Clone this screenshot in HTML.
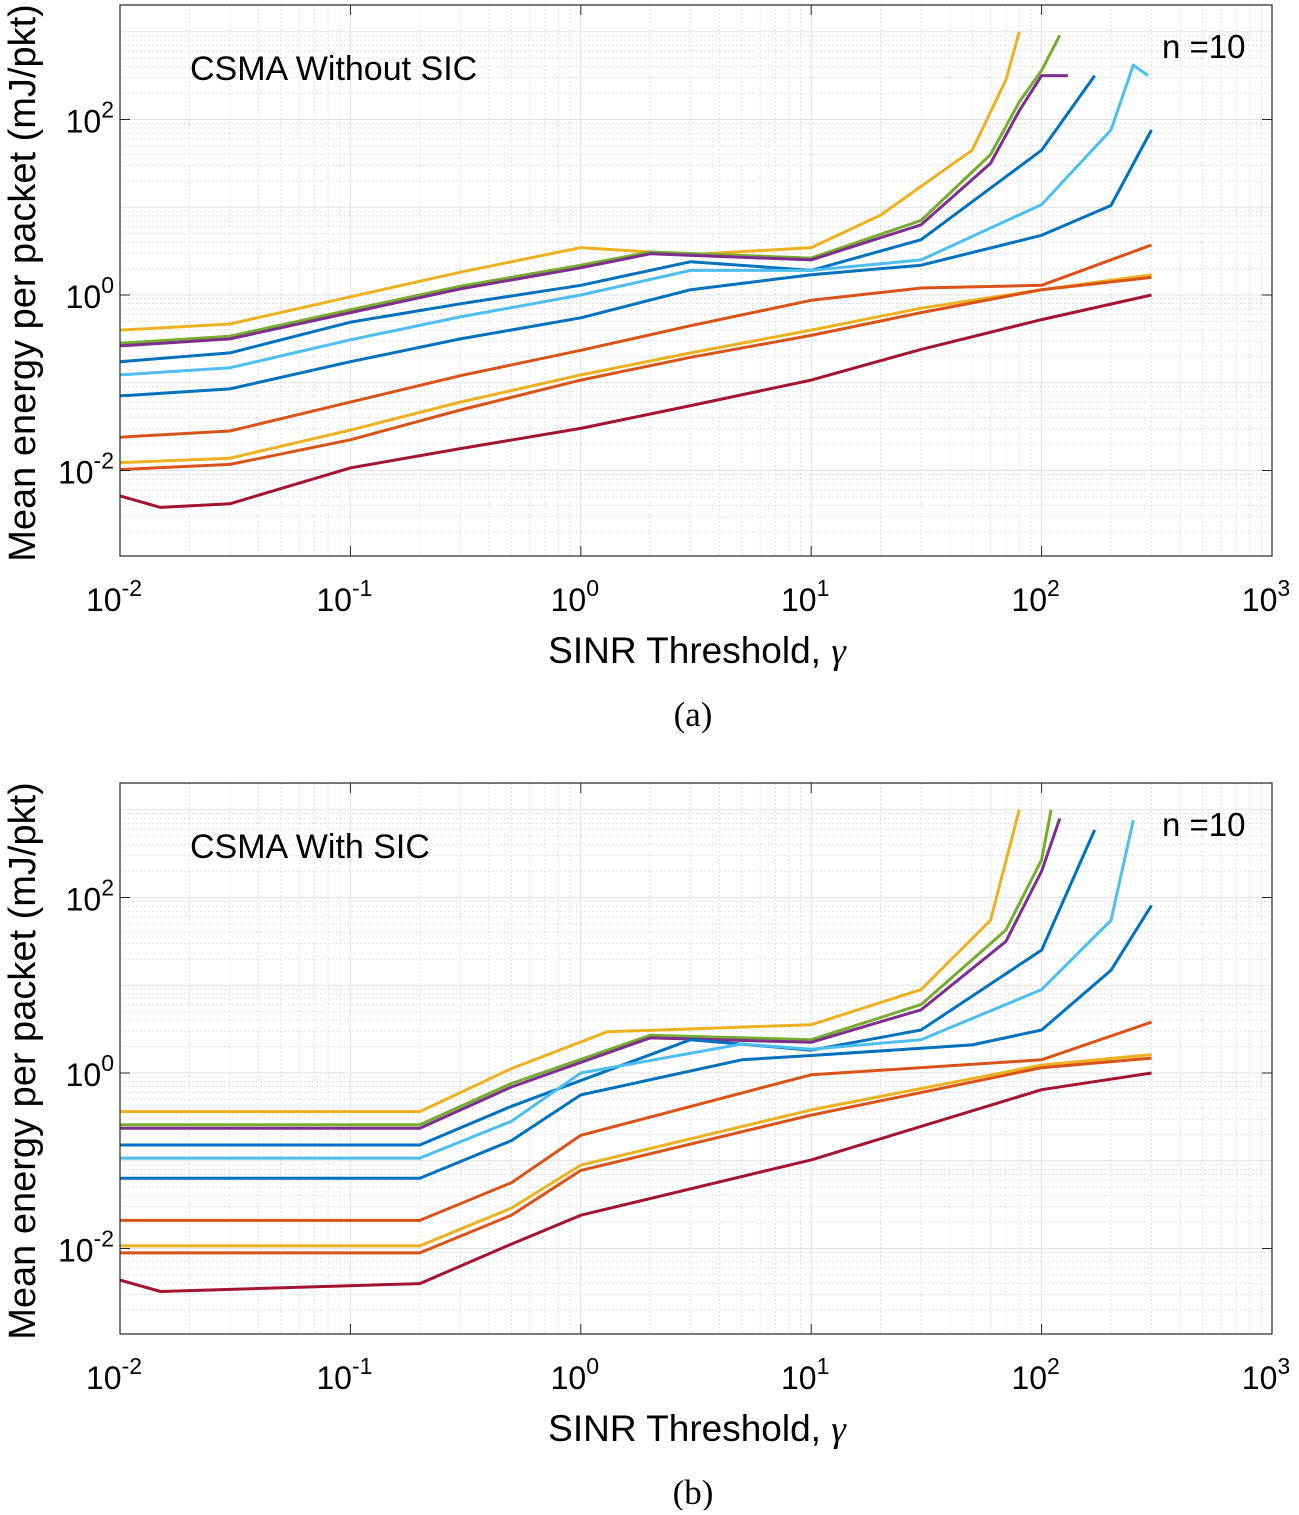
<!DOCTYPE html>
<html><head><meta charset="utf-8">
<style>
body{margin:0;background:#fff;}
svg text{font-family:"Liberation Sans",sans-serif;fill:#000;}
</style></head>
<body>
<svg id="fig" width="1299" height="1510" xmlns="http://www.w3.org/2000/svg"></svg>
<script>
// Shared colors
const colors = ["#EDB120","#77AC30","#7E2F8E","#0072BD","#4DBEEE","#0072BD","#D95319","#EDB120","#D95319","#A2142F"];
const names = ["yellow-top","green","purple","blue","light-blue","blue-low","orange","yellow-low","orange-low","dark-red"];
// Panel (a) data: gamma values and log10 energy (mJ/pkt)
const aX = [
 [0.01,0.03,0.1,0.3,1,3,10,20,50,70,80],
 [0.01,0.03,0.1,0.3,1,2,10,30,60,80,100,120],
 [0.01,0.03,0.1,0.3,1,2,10,30,60,80,100,130],
 [0.01,0.03,0.1,0.3,1,3,10,30,100,170],
 [0.01,0.03,0.1,0.3,1,3,10,30,100,200,250,290],
 [0.01,0.03,0.1,0.3,1,3,10,30,100,200,300],
 [0.01,0.03,0.1,0.3,1,3,10,30,100,300],
 [0.01,0.03,0.1,0.3,1,3,10,30,100,300],
 [0.01,0.03,0.1,0.3,1,3,10,30,100,300],
 [0.01,0.015,0.03,0.1,0.3,1,3,10,30,100,300]
];
const aY = [
 [-0.40,-0.33,-0.02,0.26,0.54,0.46,0.54,0.91,1.65,2.45,3.0],
 [-0.55,-0.47,-0.17,0.10,0.34,0.49,0.42,0.85,1.6,2.2,2.56,2.96],
 [-0.58,-0.50,-0.20,0.07,0.31,0.47,0.40,0.80,1.5,2.1,2.5,2.5],
 [-0.76,-0.66,-0.31,-0.10,0.11,0.38,0.28,0.63,1.65,2.5],
 [-0.91,-0.83,-0.51,-0.25,0.0,0.28,0.28,0.40,1.03,1.88,2.62,2.5],
 [-1.15,-1.07,-0.76,-0.50,-0.26,0.06,0.23,0.34,0.68,1.02,1.88],
 [-1.62,-1.55,-1.22,-0.92,-0.63,-0.35,-0.06,0.08,0.11,0.57],
 [-1.91,-1.86,-1.54,-1.22,-0.91,-0.66,-0.40,-0.15,0.06,0.23],
 [-1.99,-1.93,-1.65,-1.31,-0.97,-0.71,-0.46,-0.20,0.06,0.20],
 [-2.29,-2.42,-2.38,-1.97,-1.75,-1.52,-1.26,-0.97,-0.62,-0.28,0.0]
];
// Panel (b) data
const bX = [
 [0.01,0.2,0.5,1.3,10,30,60,80],
 [0.01,0.2,0.5,2,10,30,70,100,110],
 [0.01,0.2,0.5,2,10,30,70,100,120],
 [0.01,0.2,0.5,3,10,30,100,170],
 [0.01,0.2,0.5,1,5,10,30,100,200,250],
 [0.01,0.2,0.5,1,5,10,50,100,200,300],
 [0.01,0.2,0.5,1,10,100,300],
 [0.01,0.2,0.5,1,10,100,300],
 [0.01,0.2,0.5,1,10,100,300],
 [0.01,0.015,0.2,0.5,1,10,100,300]
];
const bY = [
 [-0.44,-0.44,0.05,0.47,0.55,0.95,1.74,3.0],
 [-0.59,-0.59,-0.12,0.43,0.38,0.78,1.63,2.43,3.0],
 [-0.63,-0.63,-0.16,0.40,0.35,0.72,1.5,2.3,2.9],
 [-0.82,-0.82,-0.38,0.38,0.26,0.49,1.4,2.77],
 [-0.97,-0.97,-0.55,0.0,0.33,0.27,0.38,0.95,1.74,2.88],
 [-1.20,-1.20,-0.77,-0.25,0.15,0.20,0.32,0.49,1.17,1.91],
 [-1.68,-1.68,-1.25,-0.71,-0.02,0.15,0.58],
 [-1.97,-1.97,-1.54,-1.05,-0.42,0.09,0.21],
 [-2.05,-2.05,-1.62,-1.11,-0.48,0.06,0.17],
 [-2.36,-2.49,-2.40,-1.95,-1.62,-0.99,-0.19,0.0]
];
const xTicks = ["-2","-1","0","1","2","3"];
const yTicks = ["-2","0","2"];

const NS="http://www.w3.org/2000/svg";
const svg=document.getElementById('fig');
function mk(tag,attrs,parent){const e=document.createElementNS(NS,tag);for(const k in attrs)e.setAttribute(k,attrs[k]);(parent||svg).appendChild(e);return e;}

function panel(id,top,X,Y,title,caption){
  const L=120,R=1272,T=top,B=top+551;
  const y0=top+290; // pixel of 10^0
  const dx=(R-L)/5, dy=87.75;
  const sx=g=>L+(Math.log10(g)+2)*dx;
  const sy=l=>y0-l*dy;
  const g=mk('g',{});
  
  
  const grid=mk('g',{},g);
  
  
  for(let d=-2;d<3;d++)for(let m=2;m<10;m++){const x=sx(m*Math.pow(10,d));mk('line',{x1:x,x2:x,y1:T,y2:B,stroke:'#d8d8d8','stroke-dasharray':'1.5,2.5','stroke-width':1},grid);}
  for(let d=-3;d<4;d++)for(let m=2;m<10;m++){const y=sy(d+Math.log10(m));if(y>T&&y<B)mk('line',{x1:L,x2:R,y1:y,y2:y,stroke:'#d8d8d8','stroke-dasharray':'1.5,2.5','stroke-width':1},grid);}
  for(let d=-2;d<=3;d++){const x=sx(Math.pow(10,d));mk('line',{x1:x,x2:x,y1:T,y2:B,stroke:'#e2e2e2','stroke-width':1},grid);}
  for(let d=-3;d<=4;d++){const y=sy(d);if(y>T&&y<B)mk('line',{x1:L,x2:R,y1:y,y2:y,stroke:'#e2e2e2','stroke-width':1},grid);}
  X.forEach((xs,i)=>{
    const pts=xs.map((v,j)=>sx(v).toFixed(1)+','+Math.max(T,sy(Y[i][j])).toFixed(1)).join(' ');
    const pl=mk('polyline',{points:pts,fill:'none',stroke:colors[i],'stroke-width':3,'stroke-linejoin':'round'},g);
    
    
  });
  const box=mk('rect',{x:L,y:T,width:R-L,height:B-T,fill:'none',stroke:'#262626','stroke-width':1.2},g);
  
  
  xTicks.forEach(t=>{
    const x=sx(Math.pow(10,+t));
    mk('line',{x1:x,x2:x,y1:B,y2:B-10,stroke:'#262626'},g);
    mk('line',{x1:x,x2:x,y1:T,y2:T+10,stroke:'#262626'},g);
    const tx=mk('text',{x:x-6,y:B+55,'font-size':32,'text-anchor':'middle'},g);
    
    
    tx.innerHTML='10<tspan dy="-15" font-size="23">'+t+'</tspan>';
  });
  yTicks.forEach(t=>{
    const y=sy(+t);
    mk('line',{x1:L,x2:L+10,y1:y,y2:y,stroke:'#262626'},g);
    mk('line',{x1:R,x2:R-10,y1:y,y2:y,stroke:'#262626'},g);
    const tx=mk('text',{x:L-6,y:y+13,'font-size':32,'text-anchor':'end'},g);
    
    
    tx.innerHTML='10<tspan dy="-15" font-size="23">'+t+'</tspan>';
  });
  const xl=mk('text',{x:697,y:B+107,'font-size':37,'text-anchor':'middle'},g);
  
  
  xl.innerHTML='SINR Threshold, <tspan font-family="Liberation Serif" font-style="italic">γ</tspan>';
  const yl=mk('text',{x:0,y:0,'font-size':38,'text-anchor':'middle',transform:'translate(35,'+(T+278)+') rotate(-90)'},g);
  
  
  yl.textContent='Mean energy per packet (mJ/pkt)';
  const tt=mk('text',{x:190,y:T+75,'font-size':34},g);
  
  
  tt.textContent=title;
  const nn=mk('text',{x:1162,y:T+53,'font-size':33},g);
  
  
  nn.textContent='n =10';
  const cp=mk('text',{x:693,y:B+170,'font-size':35,'text-anchor':'middle'},g);
  
  
  cp.style.fontFamily='"Liberation Serif",serif';
  cp.textContent=caption;
}
panel('panel-a',5,aX,aY,'CSMA Without SIC','(a)');
panel('panel-b',783,bX,bY,'CSMA With SIC','(b)');
</script>
</body></html>
